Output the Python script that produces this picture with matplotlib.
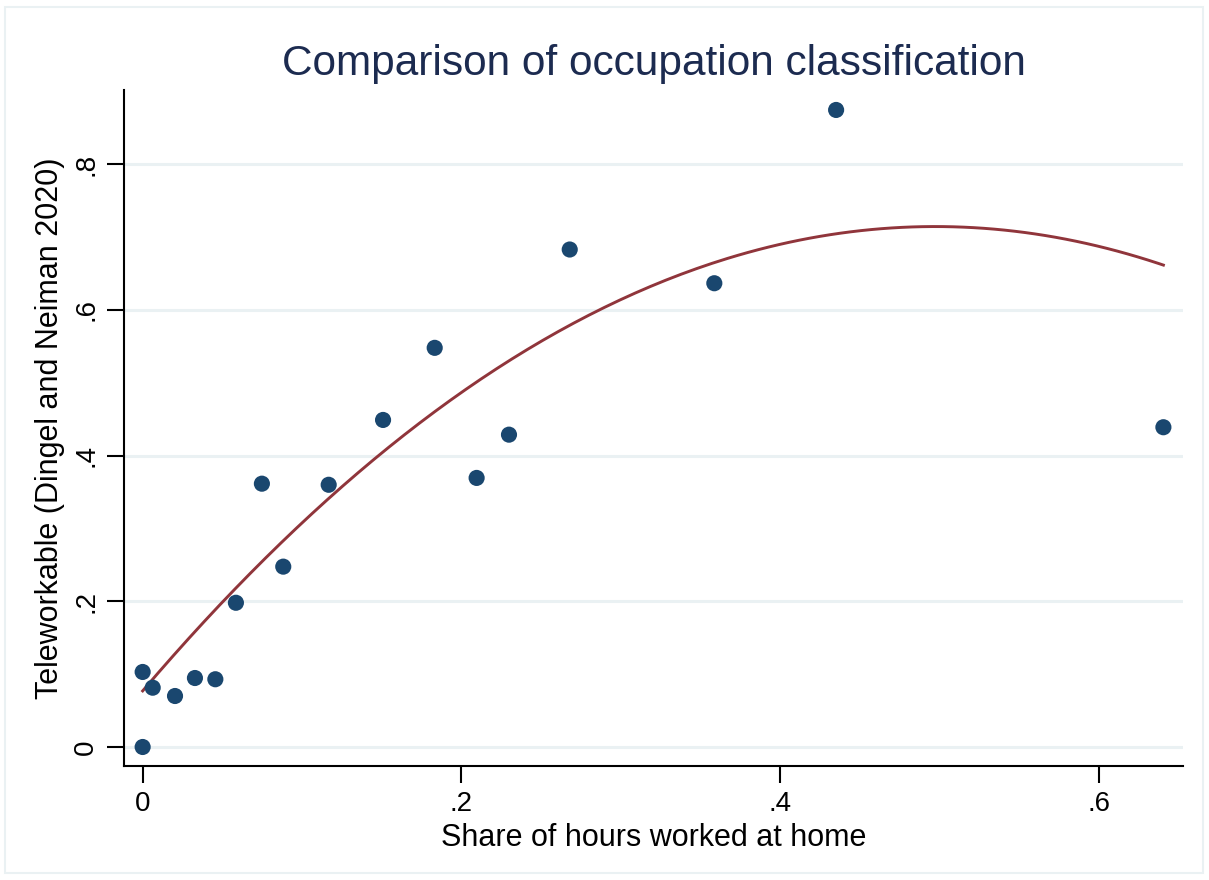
import matplotlib
matplotlib.use("Agg")

import matplotlib.pyplot as plt
import numpy as np
from matplotlib.patches import Rectangle

# Occupation-level data
share_home = [0.0, 0.0, 0.0063, 0.0203, 0.0328, 0.0456, 0.0585, 0.0748, 0.0882,
              0.1167, 0.1508, 0.1832, 0.2095, 0.2298, 0.2679, 0.3586, 0.4350, 0.6403]
teleworkable = [0.103, 0.0, 0.0814, 0.070, 0.0947, 0.093, 0.198, 0.3615, 0.2476,
                0.360, 0.449, 0.548, 0.3694, 0.4288, 0.683, 0.6367, 0.8746, 0.439]

# quadratic fit line as shown (x^2, x, const)
fit_coef = [-2.58, 2.565, 0.077]

x_ticks = [0, 0.2, 0.4, 0.6]
x_tick_labels = ["0", ".2", ".4", ".6"]
y_ticks = [0, 0.2, 0.4, 0.6, 0.8]
y_tick_labels = ["0", ".2", ".4", ".6", ".8"]

navy = "#1a476f"
maroon = "#90353b"
grid_col = "#eaf1f3"

plt.rcParams["font.family"] = ["Liberation Sans", "DejaVu Sans"]

W, H = 1209, 880
fig = plt.figure(figsize=(W / 100, H / 100), dpi=100)
fig.patch.set_facecolor("white")

# thin outer graph-region border
fig.patches.append(Rectangle((5 / W, 7 / H), (W - 11) / W, (H - 14) / H,
                             transform=fig.transFigure, fill=False,
                             edgecolor=grid_col, linewidth=1.5))

ax = fig.add_axes([124 / W, (H - 766) / H, (1183 - 124) / W, (766 - 90) / H])

# fitted curve over the data range
xx = np.linspace(min(share_home), max(share_home), 200)
ax.plot(xx, np.polyval(fit_coef, xx), color=maroon, linewidth=2.1, zorder=3)

ax.scatter(share_home, teleworkable, s=135, color=navy, edgecolors="none", zorder=4)

ax.set_xlim(-0.0117, 0.6526)
ax.set_ylim(-0.0261, 0.902)

ax.set_xticks(x_ticks)
ax.set_xticklabels(x_tick_labels)
ax.set_yticks(y_ticks)
ax.set_yticklabels(y_tick_labels, rotation=90, va="center")

for yv in y_ticks:
    ax.axhline(yv, color=grid_col, linewidth=2.2, zorder=1)

for s in ["top", "right"]:
    ax.spines[s].set_visible(False)
for s in ["left", "bottom"]:
    ax.spines[s].set_linewidth(1.5)
    ax.spines[s].set_color("black")

ax.tick_params(axis="both", length=12, width=1.5, labelsize=20, colors="black", pad=6)

ax.set_xlabel("Share of hours worked at home", fontsize=22, labelpad=4)
ax.set_ylabel("Teleworkable (Dingel and Neiman 2020)", fontsize=22, labelpad=6)
ax.set_title("Comparison of occupation classification", fontsize=30.5,
             color="#1c2b50", pad=11)

fig.savefig("out.png", dpi=100)
plt.close(fig)
